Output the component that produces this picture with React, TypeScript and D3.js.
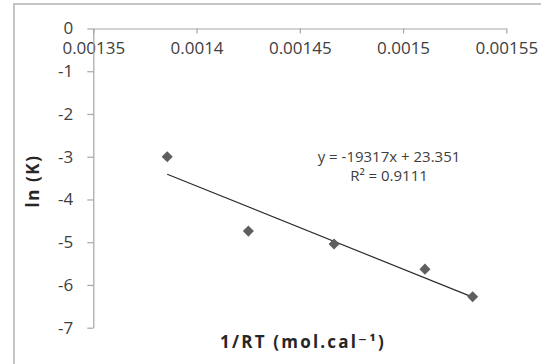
import { useEffect, useRef } from "react";
import * as d3 from "d3";

// data
const invRT = [0.0013858, 0.0014251, 0.0014666, 0.0015106, 0.0015337];
const lnK = [-3.0, -4.74, -5.04, -5.63, -6.275];
const xTicks = [0.00135, 0.0014, 0.00145, 0.0015, 0.00155];
const yTicks = [0, -1, -2, -3, -4, -5, -6, -7];
const eqLines = ["y = -19317x + 23.351", "R² = 0.9111"];

const W = 541;
const H = 364;
const FONT = "'Open Sans', 'DejaVu Sans', sans-serif";

const App = () => {
  const svgRef = useRef<SVGSVGElement>(null);

  useEffect(() => {
    const svg = d3.select(svgRef.current);
    svg.selectAll("*").remove();

    // chart border
    svg
      .append("rect")
      .attr("x", 14)
      .attr("y", 4)
      .attr("width", 600)
      .attr("height", 400)
      .attr("fill", "white")
      .attr("stroke", "#c4c4c4")
      .attr("stroke-width", 2);

    const x = d3.scaleLinear().domain([0.00135, 0.00155]).range([93.3, 506.3]);
    const y = d3.scaleLinear().domain([0, -7]).range([28.5, 327.7]);

    // x axis (at y = 0, top)
    const xAxis = svg
      .append("g")
      .attr("transform", `translate(0,${y(0)})`)
      .call(
        d3
          .axisBottom(x)
          .tickValues(xTicks)
          .tickFormat((d) => String(+d))
          .tickSizeInner(5)
          .tickSizeOuter(0)
          .tickPadding(8.5)
      );

    // y axis
    const yAxis = svg
      .append("g")
      .attr("transform", `translate(${x(0.00135)},0)`)
      .call(
        d3
          .axisLeft(y)
          .tickValues(yTicks)
          .tickFormat((d) => String(d))
          .tickSizeInner(6)
          .tickSizeOuter(0)
          .tickPadding(14)
      );

    [xAxis, yAxis].forEach((g) => {
      g.selectAll("path,line").attr("stroke", "#a6a6a6").attr("stroke-width", 1.2);
      g.selectAll("text")
        .attr("fill", "#404040")
        .style("font-family", FONT)
        .style("font-size", "17px");
    });

    // linear regression
    const mx = d3.mean(invRT) as number;
    const my = d3.mean(lnK) as number;
    let sxy = 0;
    let sxx = 0;
    invRT.forEach((v, i) => {
      sxy += (v - mx) * (lnK[i] - my);
      sxx += (v - mx) * (v - mx);
    });
    const slope = sxy / sxx;
    const icpt = my - slope * mx;
    const [x0, x1] = d3.extent(invRT) as [number, number];

    svg
      .append("line")
      .attr("x1", x(x0))
      .attr("y1", y(slope * x0 + icpt))
      .attr("x2", x(x1))
      .attr("y2", y(slope * x1 + icpt))
      .attr("stroke", "#2b2b2b")
      .attr("stroke-width", 1.2);

    // markers
    svg
      .selectAll(".pt")
      .data(invRT)
      .enter()
      .append("path")
      .attr("class", "pt")
      .attr("d", d3.symbol(d3.symbolDiamond2, 78)())
      .attr("transform", (d, i) => `translate(${x(d)},${y(lnK[i])})`)
      .attr("fill", "#5f5f5f");

    // trendline label
    svg
      .append("g")
      .selectAll("text")
      .data(eqLines)
      .enter()
      .append("text")
      .attr("x", 389)
      .attr("y", (d, i) => 162 + i * 18.5)
      .attr("text-anchor", "middle")
      .attr("fill", "#404040")
      .style("font-family", FONT)
      .style("font-size", "15px")
      .text((d) => d);

    // axis titles
    svg
      .append("text")
      .attr("transform", "translate(39,181) rotate(-90)")
      .attr("text-anchor", "middle")
      .attr("fill", "#262626")
      .style("font-family", FONT)
      .style("font-size", "17px")
      .style("font-weight", "bold")
      .style("letter-spacing", "1.6px")
      .text("ln (K)");

    svg
      .append("text")
      .attr("x", 303)
      .attr("y", 348)
      .attr("text-anchor", "middle")
      .attr("fill", "#262626")
      .style("font-family", FONT)
      .style("font-size", "17px")
      .style("font-weight", "bold")
      .style("letter-spacing", "2.2px")
      .text("1/RT (mol.cal⁻¹)");
  }, []);

  return (
    <svg
      ref={svgRef}
      width={W}
      height={H}
      style={{ position: "absolute", left: 0, top: 0, background: "white" }}
    ></svg>
  );
};

export default App;
